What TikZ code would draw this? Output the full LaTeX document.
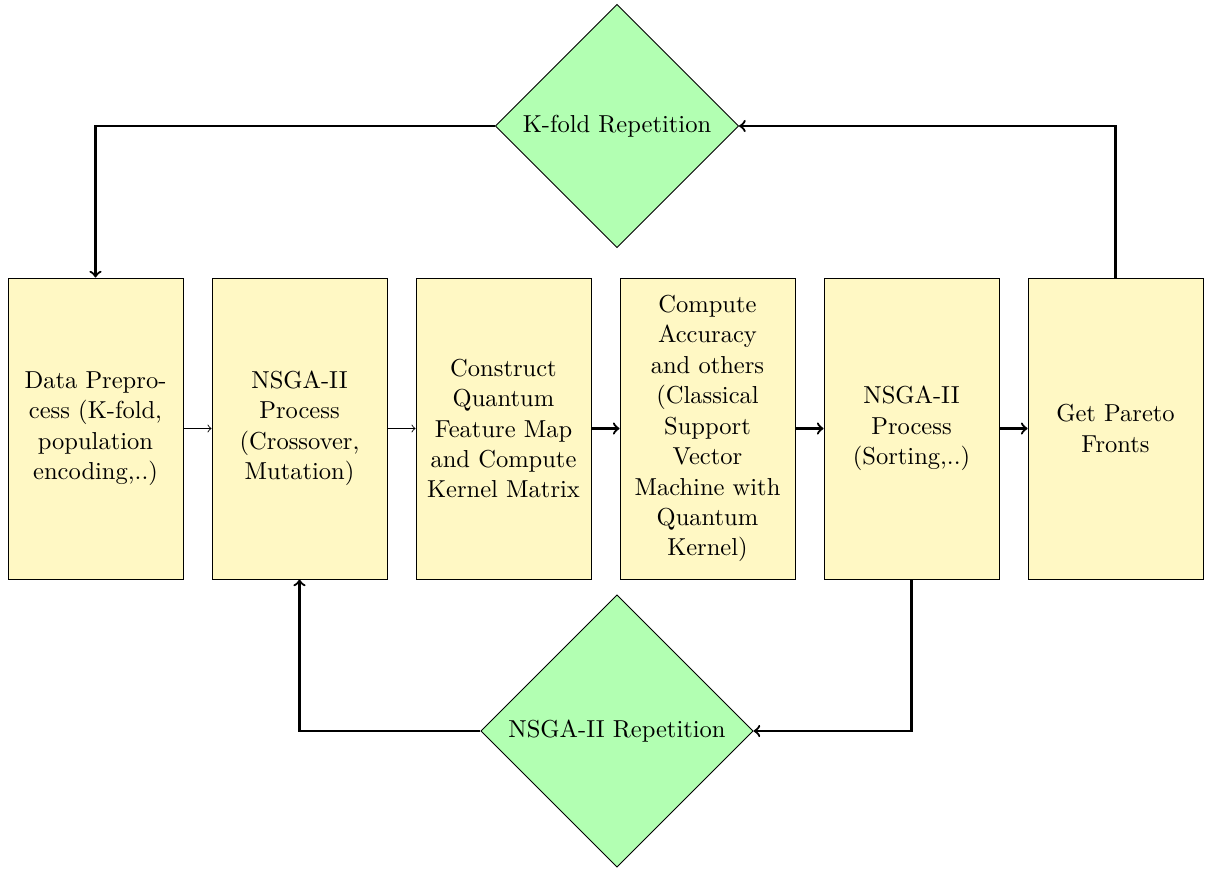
\documentclass[tikz,border=0pt]{standalone}
\usetikzlibrary{shapes.geometric}
\definecolor{boxfill}{RGB}{255,248,196}
\tikzset{
  stepbox/.style={draw=black, fill=boxfill, text width=70.8pt, align=center, minimum width=78.1pt, minimum height=134.4pt, inner sep=3.65pt},
  decision/.style={draw=black, fill=green!30, diamond, aspect=1, align=center, inner sep=3.65pt},
  thinarrow/.style={->},
  thickarrow/.style={->, line width=1pt},
}
\begin{document}
\begin{tikzpicture}[x=0.4464pt, y=-0.4464pt, font=\fontsize{10.95}{13.6}\selectfont]
\useasboundingbox (0,0) rectangle (1205,869);
\node[stepbox] (b1) at (95.5,428.5) {Data Preprocess (K-fold, population encoding,..)};
\node[stepbox] (b2) at (299.5,428.5) {NSGA-II Process (Crossover, Mutation)};
\node[stepbox] (b3) at (503.5,428.5) {Construct Quantum Feature Map and Compute Kernel Matrix};
\node[stepbox] (b4) at (707.5,428.5) {Compute Accuracy and others (Classical Support Vector Machine with Quantum Kernel)};
\node[stepbox] (b5) at (911.5,428.5) {NSGA-II Process (Sorting,..)};
\node[stepbox] (b6) at (1115.5,428.5) {Get Pareto Fronts};
\node[decision] (k) at (617,126) {K-fold Repetition};
\node[decision] (n) at (617,731) {NSGA-II Repetition};
\draw[thinarrow] (b1) -- (b2);
\draw[thinarrow] (b2) -- (b3);
\draw[thickarrow] (b3) -- (b4);
\draw[thickarrow] (b4) -- (b5);
\draw[thickarrow] (b5) -- (b6);
\draw[thickarrow] (b6.north) |- (k.east);
\draw[thickarrow] (k.west) -| (b1.north);
\draw[thickarrow] (b5.south) |- (n.east);
\draw[thickarrow] (n.west) -| (b2.south);
\end{tikzpicture}
\end{document}
